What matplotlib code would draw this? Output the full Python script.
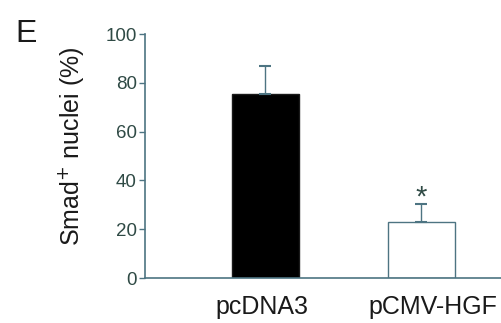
import numpy as np
import matplotlib.pyplot as plt

plt.rcParams['font.family'] = ['Liberation Sans', 'DejaVu Sans']

groups = ['pcDNA3', 'pCMV-HGF']
means = [75.5, 23]
errs = [11.5, 7.5]
fills = ['black', 'white']
edges = ['#1a1a1a', '#4d7482']

axcol = '#4d7482'
txtcol = '#2f4a45'

fig = plt.figure(figsize=(5.01, 3.23), dpi=100, facecolor='w')
ax = fig.add_axes([0.2894, 0.1393, 0.72, 0.7554])

x = np.arange(len(groups))
ax.bar(x, means, width=0.43, color=fills, edgecolor=edges, linewidth=1)
ax.errorbar(x, means, yerr=[np.zeros(len(errs)), errs], fmt='none',
            ecolor=axcol, elinewidth=1, capsize=4, capthick=1.5)
# significance mark
ax.text(x[1], means[1] + errs[1] - 1, '*', ha='center', va='baseline',
        fontsize=21, color=txtcol)

ax.set_xlim(-0.77, 1.54)
ax.set_ylim(0, 100)
ax.set_yticks([0, 20, 40, 60, 80, 100])
ax.set_xticks([])
ax.tick_params(axis='y', length=4, width=1, color=axcol, labelsize=13.5,
               labelcolor=txtcol, pad=2)

# group labels under the bars (pCMV-HGF sits a bit right of its bar)
shifts = [-2, 8]
for xi, g, dx in zip(x, groups, shifts):
    ax.annotate(g, xy=(xi, 0), xycoords=('data', 'axes fraction'),
                xytext=(dx, -12), textcoords='offset points',
                ha='center', va='top', fontsize=18, color='#1a1a1a')

for s in ['top', 'right']:
    ax.spines[s].set_visible(False)
for s in ['left', 'bottom']:
    ax.spines[s].set_color(axcol)
    ax.spines[s].set_linewidth(1.2)

ax.set_ylabel('Smad$^{+}$ nuclei (%)', fontsize=18, color='#1a1a1a')
ax.yaxis.set_label_coords(-0.163, 0.54)
fig.text(0.03, 0.87, 'E', fontsize=23, color='#1a1a1a')

fig.savefig('out.png', dpi=100)
